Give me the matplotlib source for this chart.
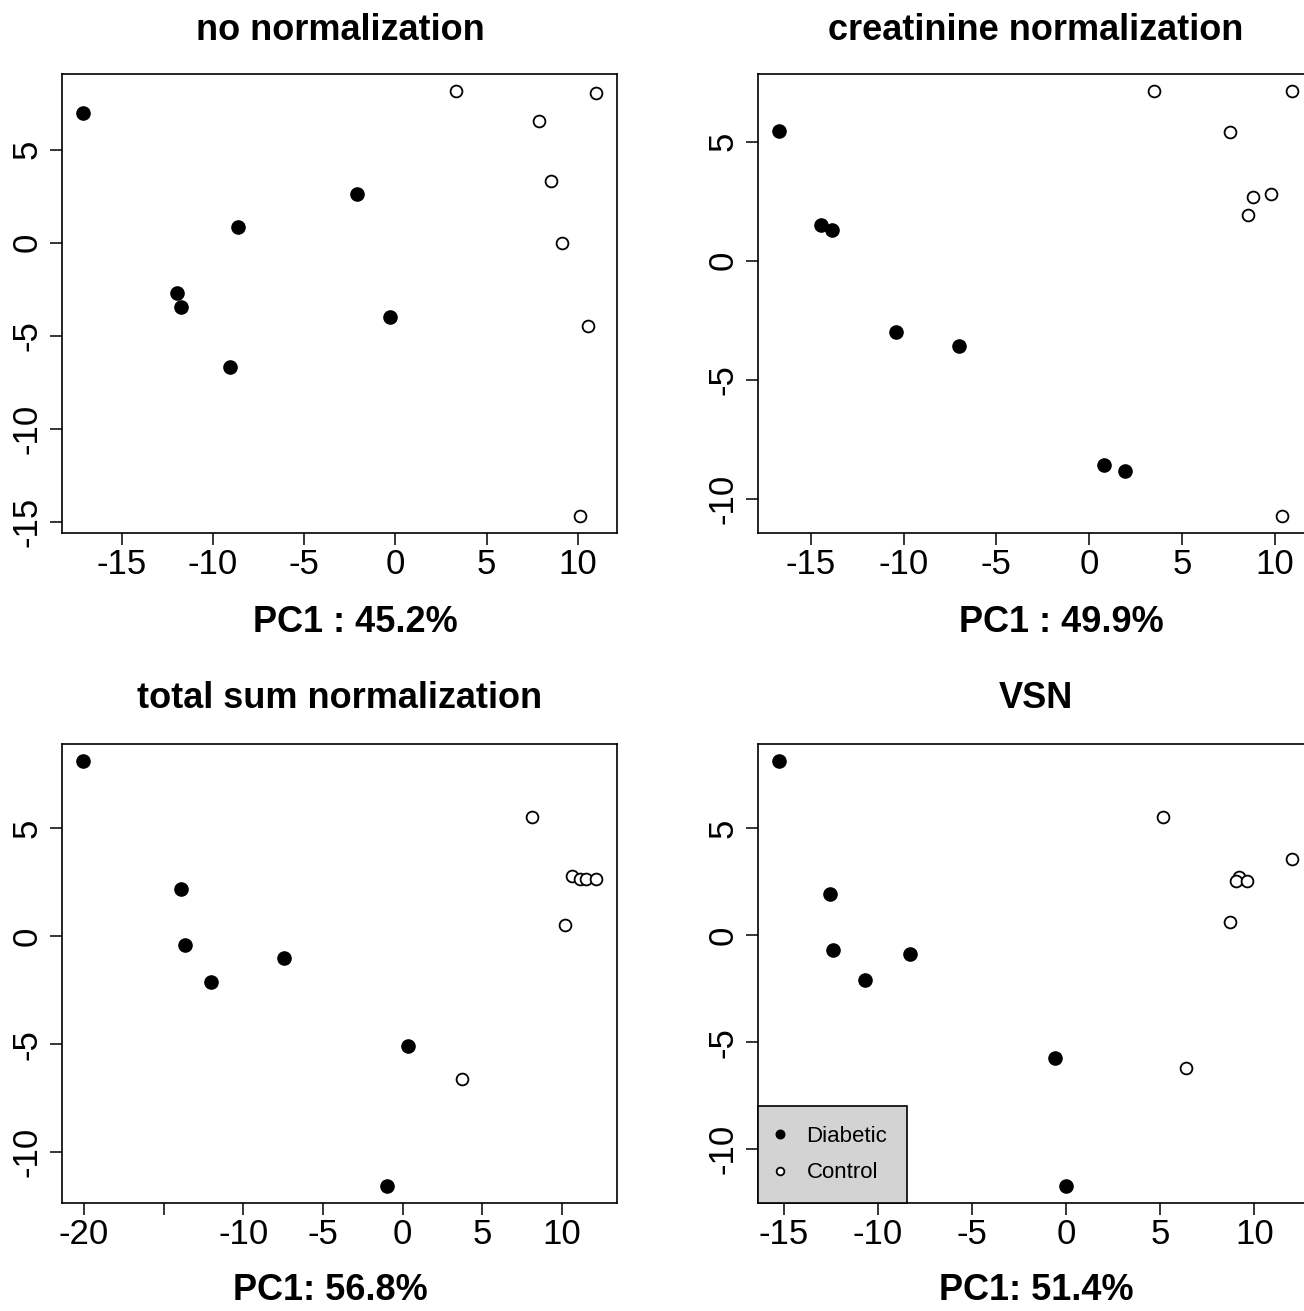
import matplotlib.pyplot as plt

plt.rcParams['font.family'] = ['Liberation Sans', 'DejaVu Sans']

# panel titles and axis labels
titles = ["no normalization", "creatinine normalization",
          "total sum normalization", "VSN"]
xlabels = ["PC1 : 45.2%", "PC1 : 49.9%", "PC1: 56.8%", "PC1: 51.4%"]

# no normalization
nn_diab_x = [-17.16, -2.10, -8.64, -11.99, -11.74, -9.05, -0.27]
nn_diab_y = [6.98, 2.63, 0.84, -2.68, -3.43, -6.67, -3.99]
nn_ctrl_x = [3.33, 11.03, 7.86, 8.52, 9.12, 10.55, 10.12]
nn_ctrl_y = [8.14, 8.05, 6.51, 3.31, -0.04, -4.45, -14.67]

# creatinine normalization
cr_diab_x = [-16.73, -14.44, -13.85, -10.38, -7.03, 0.79, 1.94]
cr_diab_y = [5.45, 1.50, 1.27, -3.01, -3.57, -8.57, -8.84]
cr_ctrl_x = [3.51, 10.95, 7.61, 8.83, 9.77, 8.58, 10.41]
cr_ctrl_y = [7.13, 7.13, 5.39, 2.66, 2.79, 1.93, -10.73]

# total sum normalization
ts_diab_x = [-20.08, -13.88, -13.67, -12.03, -7.45, 0.31, -0.96]
ts_diab_y = [8.13, 2.18, -0.40, -2.12, -0.99, -5.08, -11.58]
ts_ctrl_x = [8.13, 10.63, 11.15, 11.48, 12.16, 10.21, 3.72]
ts_ctrl_y = [5.55, 2.78, 2.64, 2.64, 2.64, 0.54, -6.62]

# VSN
vs_diab_x = [-15.29, -12.56, -12.40, -10.69, -8.33, -0.62, -0.04]
vs_diab_y = [8.12, 1.93, -0.70, -2.12, -0.90, -5.74, -11.71]
vs_ctrl_x = [5.13, 12.02, 9.20, 9.02, 9.62, 8.71, 6.36]
vs_ctrl_y = [5.52, 3.53, 2.72, 2.52, 2.52, 0.61, -6.22]

panels = [
    (nn_diab_x, nn_diab_y, nn_ctrl_x, nn_ctrl_y),
    (cr_diab_x, cr_diab_y, cr_ctrl_x, cr_ctrl_y),
    (ts_diab_x, ts_diab_y, ts_ctrl_x, ts_ctrl_y),
    (vs_diab_x, vs_diab_y, vs_ctrl_x, vs_ctrl_y),
]

xticks = [[-15, -10, -5, 0, 5, 10],
          [-15, -10, -5, 0, 5, 10],
          [-20, -15, -10, -5, 0, 5, 10],
          [-15, -10, -5, 0, 5, 10]]
xticklabels = [["-15", "-10", "-5", "0", "5", "10"],
               ["-15", "-10", "-5", "0", "5", "10"],
               ["-20", "", "-10", "-5", "0", "5", "10"],
               ["-15", "-10", "-5", "0", "5", "10"]]
yticks = [[-15, -10, -5, 0, 5],
          [-10, -5, 0, 5],
          [-10, -5, 0, 5],
          [-10, -5, 0, 5]]

W, H = 1304, 1311
fig = plt.figure(figsize=(W / 100, H / 100), dpi=100)

# box positions in pixels: left, top, width, height
boxes = [(62, 74, 555, 459), (758, 74, 555, 459),
         (62, 744, 555, 459), (758, 744, 555, 459)]
title_pos = [(340, 30), (1036, 30), (340, 699), (1036, 699)]
xlab_pos = [(355, 622), (1061, 622), (330, 1290), (1036, 1290)]

axes = []
for i, (dx, dy, cx, cy) in enumerate(panels):
    l, t, w, h = boxes[i]
    ax = fig.add_axes([l / W, 1 - (t + h) / H, w / W, h / H])
    ax.plot(dx, dy, 'o', color='black', markersize=9.5, linestyle='none',
            label='Diabetic')
    ax.plot(cx, cy, 'o', markerfacecolor='white', markeredgecolor='black',
            markeredgewidth=1.3, markersize=8.5, linestyle='none',
            label='Control')
    # R-style 4% padding
    allx = list(dx) + list(cx)
    ally = list(dy) + list(cy)
    rx = max(allx) - min(allx)
    ry = max(ally) - min(ally)
    ax.set_xlim(min(allx) - 0.04 * rx, max(allx) + 0.04 * rx)
    ax.set_ylim(min(ally) - 0.04 * ry, max(ally) + 0.04 * ry)
    ax.set_xticks(xticks[i])
    ax.set_xticklabels(xticklabels[i])
    ax.set_yticks(yticks[i])
    ax.set_yticklabels([str(v) for v in yticks[i]], rotation=90, va='center')
    ax.tick_params(direction='out', length=8.5, width=1.1, labelsize=25)
    ax.tick_params(axis='x', pad=2)
    ax.tick_params(axis='y', pad=5)
    for s in ax.spines.values():
        s.set_linewidth(1.2)
    fig.text(title_pos[i][0] / W, 1 - title_pos[i][1] / H, titles[i],
             ha='center', va='center', fontsize=26, fontweight='bold')
    fig.text(xlab_pos[i][0] / W, 1 - xlab_pos[i][1] / H, xlabels[i],
             ha='center', va='center', fontsize=26, fontweight='bold')
    axes.append(ax)

leg = axes[3].legend(loc='lower left', frameon=True, fancybox=False,
                     borderaxespad=0, fontsize=16, handletextpad=1.1,
                     handlelength=0.2, borderpad=0.88, labelspacing=0.7,
                     markerscale=0.65)
leg.get_frame().set_facecolor('#d3d3d3')
leg.get_frame().set_edgecolor('black')
leg.get_frame().set_linewidth(1.2)
leg.get_frame().set_alpha(1)

fig.savefig('out.png', dpi=100)
